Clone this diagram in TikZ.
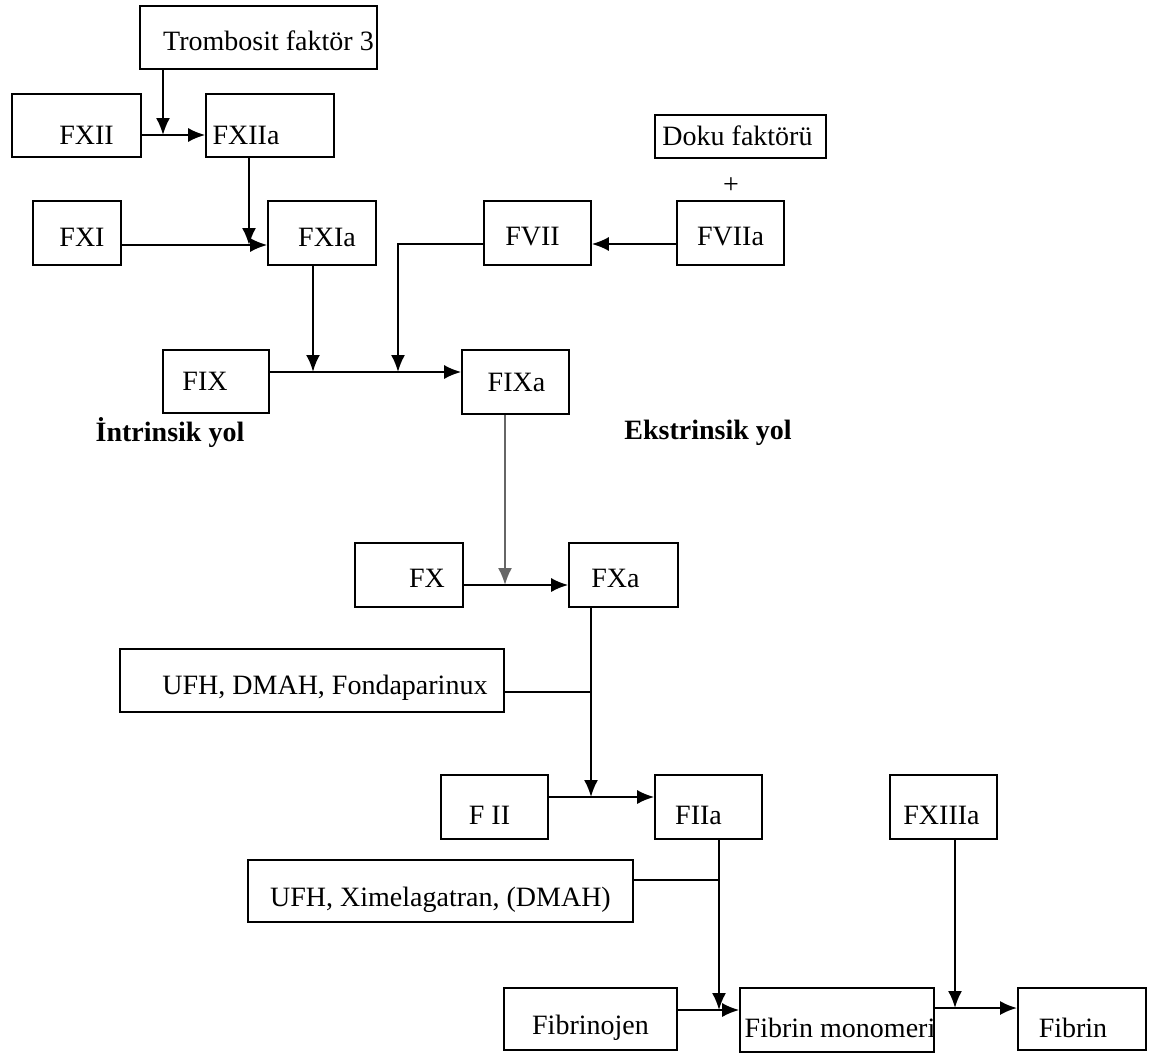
\documentclass[tikz,border=0pt]{standalone}
\usepackage{fontspec}
\setmainfont{Liberation Serif}
\usetikzlibrary{arrows.meta}

\begin{document}
\begin{tikzpicture}[x=1pt,y=-1pt,>={Latex[length=17pt,width=14pt]},
  box/.style={draw,line width=1.6pt,inner sep=0pt},
  arr/.style={->,line width=2pt},
  txt/.style={font=\fontsize{28}{32}\selectfont},
  every label/.style={txt}]
 \useasboundingbox (0,0) rectangle (1156,1052);

 % boxes, text shifted inside as in the original
 \node[box,minimum width=237pt,minimum height=63pt,label={[xshift=10pt,yshift=-3pt]center:Trombosit faktör 3}] (tf) at (258.5,37.5) {};
 \node[box,minimum width=129pt,minimum height=63pt,label={[xshift=10pt,yshift=-10pt]center:FXII}] (fxii) at (76.5,125.5) {};
 \node[box,minimum width=128pt,minimum height=63pt,label={[xshift=-24pt,yshift=-10pt]center:FXIIa}] (fxiia) at (270,125.5) {};
 \node[box,minimum width=171pt,minimum height=43pt,label={[xshift=-3pt,yshift=1pt]center:Doku faktörü}] (doku) at (740.5,136.5) {};
 \node[txt] (plus) at (731,186) {+};
 \node[box,minimum width=88pt,minimum height=64pt,label={[xshift=5pt,yshift=-4pt]center:FXI}] (fxi) at (77,233) {};
 \node[box,minimum width=108pt,minimum height=64pt,label={[xshift=5pt,yshift=-4pt]center:FXIa}] (fxia) at (322,233) {};
 \node[box,minimum width=107pt,minimum height=64pt,label={[xshift=-5pt,yshift=-4pt]center:FVII}] (fvii) at (537.5,233) {};
 \node[box,minimum width=107pt,minimum height=64pt,label={[yshift=-4pt]center:FVIIa}] (fviia) at (730.5,233) {};
 \node[box,minimum width=106pt,minimum height=63pt,label={[xshift=-11pt]center:FIX}] (fix) at (216,381.5) {};
 \node[box,minimum width=107pt,minimum height=64pt,label={[xshift=1pt]center:FIXa}] (fixa) at (515.5,382) {};
 \node[txt,font=\fontsize{28}{32}\selectfont\bfseries] (intr) at (170,433) {İntrinsik yol};
 \node[txt,font=\fontsize{28}{32}\selectfont\bfseries] (ekstr) at (708,433) {Ekstrinsik yol};
 \node[box,minimum width=108pt,minimum height=64pt,label={[xshift=18pt,yshift=-3pt]center:FX}] (fx) at (409,575) {};
 \node[box,minimum width=109pt,minimum height=64pt,label={[xshift=-8pt,yshift=-3pt]center:FXa}] (fxa) at (623.5,575) {};
 \node[box,minimum width=384pt,minimum height=63pt,label={[xshift=13pt,yshift=-7pt]center:UFH, DMAH, Fondaparinux}] (ufh1) at (312,680.5) {};
 \node[box,minimum width=107pt,minimum height=64pt,label={[xshift=-5pt,yshift=-8pt]center:F II}] (fii) at (494.5,807) {};
 \node[box,minimum width=107pt,minimum height=64pt,label={[xshift=-10pt,yshift=-8pt]center:FIIa}] (fiia) at (708.5,807) {};
 \node[box,minimum width=107pt,minimum height=64pt,label={[xshift=-2pt,yshift=-8pt]center:FXIIIa}] (fxiiia) at (943.5,807) {};
 \node[box,minimum width=385pt,minimum height=62pt,label={[yshift=-9pt]center:UFH, Ximelagatran, (DMAH)}] (ufh2) at (440.5,891) {};
 \node[box,minimum width=173pt,minimum height=62pt,label={[yshift=-9pt]center:Fibrinojen}] (fbj) at (590.5,1019) {};
 \node[box,minimum width=194pt,minimum height=64pt,label={[xshift=3pt,yshift=-8pt]center:Fibrin monomeri}] (fbm) at (837,1020) {};
 \node[box,minimum width=128pt,minimum height=62pt,label={[xshift=-9pt,yshift=-9pt]center:Fibrin}] (fb) at (1082,1019) {};

 % junction points on the lines
 \coordinate (j1) at (163,135);
 \coordinate (j2) at (249,245);
 \coordinate (j3) at (313,372);
 \coordinate (j4) at (398,372);
 \coordinate (j5) at (505,585);
 \coordinate (j6) at (591,797);
 \coordinate (j7) at (591,692);
 \coordinate (j8) at (719,1010);
 \coordinate (j9) at (719,880);
 \coordinate (j10) at (955,1008);
 \coordinate (k1) at (0,244);

 % intrinsic side
 \draw[arr] (j1 |- tf.south) -- (j1);
 \draw[arr] (fxii.east |- j1) -- (fxiia.west |- j1);
 \draw[arr] (j2 |- fxiia.south) -- (j2);
 \draw[arr] (fxi.east |- j2) -- (fxia.west |- j2);
 \draw[arr,line width=2.6pt] (j3 |- fxia.south) -- (j3);
 \draw[arr] (fix.east |- j3) -- (fixa.west |- j3);

 % extrinsic side
 \draw[arr] (fviia.west |- k1) -- (fvii.east |- k1);
 \draw[arr] (fvii.west |- k1) -| (j4);

 % common path
 \draw[arr,draw=black!60] (j5 |- fixa.south) -- (j5);
 \draw[arr] (fx.east |- j5) -- (fxa.west |- j5);
 \draw[arr] (j6 |- fxa.south) -- (j6);
 \draw[line width=1.6pt] (ufh1.east |- j7) -- (j7);
 \draw[arr] (fii.east |- j6) -- (fiia.west |- j6);
 \draw[arr] (j8 |- fiia.south) -- (j8);
 \draw[line width=1.6pt] (ufh2.east |- j9) -- (j9);
 \draw[arr] (fbj.east |- j8) -- (fbm.west |- j8);
 \draw[arr] (j10 |- fxiiia.south) -- (j10);
 \draw[arr,line width=2.6pt] (fbm.east |- j10) -- (fb.west |- j10);
\end{tikzpicture}
\end{document}
